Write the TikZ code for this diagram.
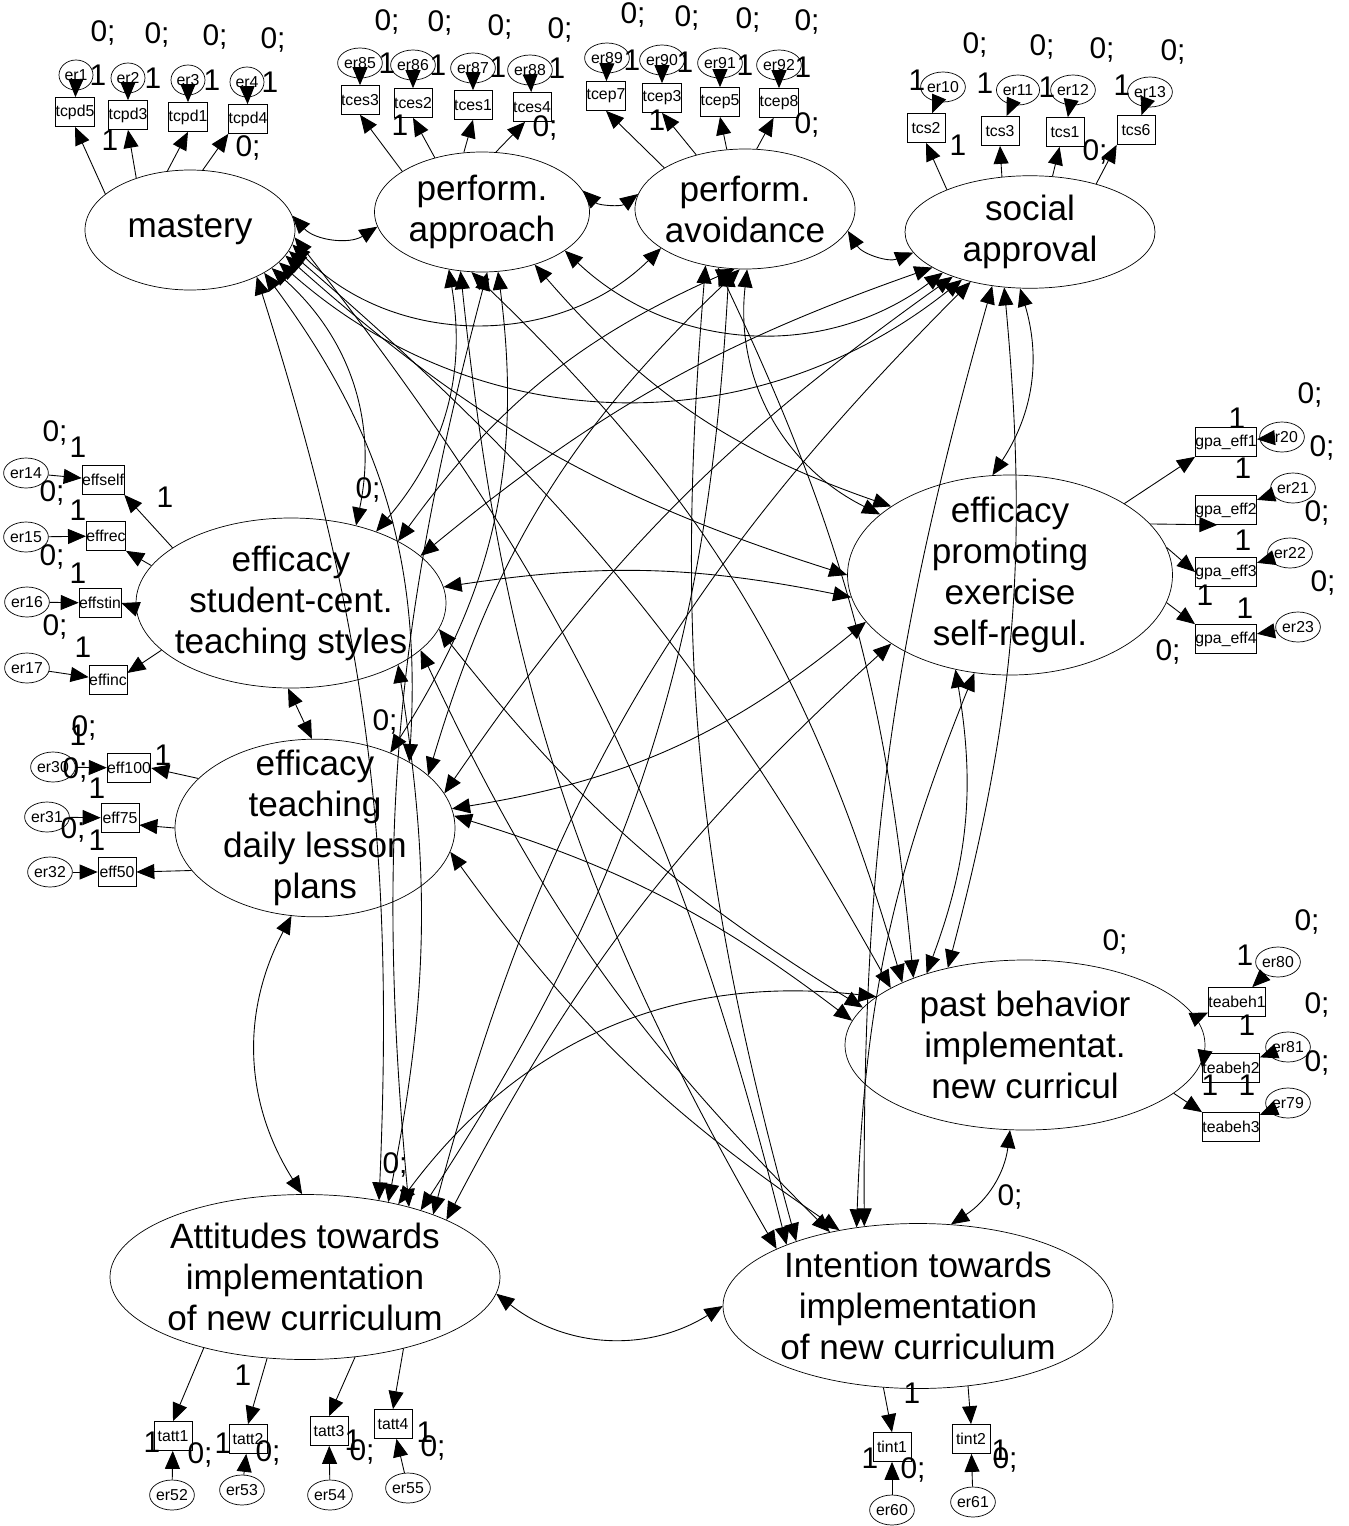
\documentclass[tikz,border=0pt]{standalone}
\usepackage{fontspec}
\setmainfont{Liberation Sans}
\usetikzlibrary{arrows.meta,shapes.geometric,positioning}
\tikzset{%
  >={Triangle[length=3.6mm,width=3mm]},
  % Specifications for style of nodes:
      latent/.style = {ellipse, draw=black, inner sep=-3mm, align=center,
                       font=\fontsize{20}{23.3}\selectfont},
         obs/.style = {rectangle, draw=black, minimum width=7.6mm, minimum height=5.8mm,
                       inner sep=0pt, font=\fontsize{9}{10}\selectfont},
         err/.style = {ellipse, draw=black, minimum width=6.8mm, minimum height=6mm,
                       inner sep=0pt, font=\fontsize{9}{10}\selectfont},
         lbl/.style = {inner sep=0pt, font=\fontsize{17}{17}\selectfont},
        load/.style = {->, line width=0.5pt},
         cov/.style = {<->, line width=0.5pt}
}

\begin{document}
\begin{tikzpicture}[x=0.2mm, y=0.2mm]
\useasboundingbox (0,0) rectangle (1348,-1526);

% latent variables
\node (mas) [latent, minimum width=42mm, minimum height=24mm] at (190,-230) {mastery};
\node (app) [latent, minimum width=43mm, minimum height=24mm] at (482,-212) {perform.\\approach};
\node (avo) [latent, minimum width=44mm, minimum height=24mm] at (745,-209) {perform.\\avoidance};
\node (soc) [latent, minimum width=50mm, minimum height=22.5mm] at (1030,-232) {social\\approval};
\node (stu) [latent, minimum width=62mm, minimum height=34mm] at (291,-603) {efficacy\\student-cent.\\teaching styles};
\node (pro) [latent, minimum width=65mm, minimum height=40mm] at (1010,-575) {efficacy\\promoting\\exercise\\self-regul.};
\node (les) [latent, minimum width=56mm, minimum height=35mm] at (315,-828) {efficacy\\teaching\\daily lesson\\plans};
\node (pst) [latent, minimum width=72mm, minimum height=34mm] at (1025,-1045) {past behavior\\implementat.\\new curricul};
\node (att) [latent, minimum width=78mm, minimum height=33mm] at (305,-1277) {Attitudes towards\\implementation\\of new curriculum};
\node (int) [latent, minimum width=78mm, minimum height=33mm] at (918,-1306) {Intention towards\\implementation\\of new curriculum};

% observed variables
\foreach \nm/\x/\y in {tcpd5/75/112, tcpd3/128/115, tcpd1/188/117, tcpd4/248/119,
    tces3/360/100, tces2/413/103, tces1/473/105, tces4/532/107,
    tcep7/606/96, tcep3/662/98, tcep5/720/102, tcep8/779/103,
    tcs2/926/128, tcs3/1000/131, tcs1/1065/132, tcs6/1136/130,
    effself/103/480, effrec/106/536, effstin/100/603, effinc/108/680,
    eff100/129/768, eff75/120/818, eff50/117/872,
    teabeh1/1237/1002, teabeh2/1231/1068, teabeh3/1231/1127,
    tatt1/173/1436, tatt2/248/1439, tatt3/329/1431, tatt4/393/1424,
    tint1/892/1447, tint2/971/1439}
  \node (\nm) [obs] at (\x,-\y) {\nm};
\foreach \i/\y in {1/442, 2/510, 3/572, 4/639}
  \node (gpa\i) [obs] at (1226,-\y) {gpa\_eff\i};

% error terms
\foreach \nm/\x/\y in {er1/76/75, er2/128/78, er3/188/80, er4/247/82,
    er85/360/63, er86/413/65, er87/473/68, er88/530/70,
    er89/607/58, er90/662/60, er91/720/63, er92/779/65,
    er10/943/87, er11/1018/90, er12/1073/90, er13/1150/92,
    er14/26/473, er15/26/537, er16/27/602, er17/27/668,
    er30/53/767, er31/47/817, er32/50/872,
    er20/1282/437, er21/1293/488, er22/1290/553, er23/1298/627,
    er80/1278/962, er81/1288/1047, er79/1288/1103,
    er52/172/1495, er53/242/1490, er54/330/1495, er55/408/1488,
    er60/892/1510, er61/973/1502}
  \node (\nm) [err] at (\x,-\y) {\nm};

\foreach \e/\o in {er1/tcpd5, er2/tcpd3, er3/tcpd1, er4/tcpd4,
    er85/tces3, er86/tces2, er87/tces1, er88/tces4,
    er89/tcep7, er90/tcep3, er91/tcep5, er92/tcep8,
    er10/tcs2, er11/tcs3, er12/tcs1, er13/tcs6,
    er14/effself, er15/effrec, er16/effstin, er17/effinc,
    er30/eff100, er31/eff75, er32/eff50,
    er20/gpa1, er21/gpa2, er22/gpa3, er23/gpa4,
    er80/teabeh1, er81/teabeh2, er79/teabeh3,
    er52/tatt1, er53/tatt2, er54/tatt3, er55/tatt4,
    er60/tint1, er61/tint2}
  \draw[load] (\e) -- (\o);

% loadings
\draw[load] (mas.157) -- (tcpd5.south);
\draw[load] (mas.136) -- (tcpd3.south);
\draw[load] (mas.111) -- (tcpd1.south);
\draw[load] (mas.78) -- (tcpd4.south west);
\draw[load] (app.153) -- (tces3.south);
\draw[load] (app.131) -- (tces2.south);
\draw[load] (app.107) -- (tces1.south);
\draw[load] (app.77) -- (tces4.-115);
\draw[load] (avo.153) -- (tcep7.south);
\draw[load] (avo.132) -- (tcep3.south);
\draw[load] (avo.107) -- (tcep5.south);
\draw[load] (avo.79) -- (tcep8.-110);
\draw[load] (soc.153) -- (tcs2.south);
\draw[load] (soc.117) -- (tcs3.south);
\draw[load] (soc.68) -- (tcs1.-110);
\draw[load] (soc.36) -- (tcs6.south west);
\draw[load] (stu.155) -- (effself.south east);
\draw[load] (stu.165) -- (effrec.south east);
\draw[load] (stu.182) -- (effstin.east);
\draw[load] (stu.200) -- (effinc.20);
\draw[load] (les.157) -- (eff100.east);
\draw[load] (les.180) -- (eff75.-20);
\draw[load] (les.199) -- (eff50.east);
\draw[load] (pro.32) -- (gpa1.south west);
\draw[load] (pro.20) -- (gpa2.-120);
\draw[load] (pro.10) -- (gpa3.west);
\draw[load] (pro.-10) -- (gpa4.north west);
\draw[load] (pst.9) -- (teabeh1.-160);
\draw[load] (pst.-2) -- (teabeh2.west);
\draw[load] (pst.-18) -- (teabeh3.north west);
\draw[load] (att.215) -- (tatt1.north);
\draw[load] (att.245) -- (tatt2.north);
\draw[load] (att.302) -- (tatt3.north);
\draw[load] (att.324) -- (tatt4.north);
\draw[load] (int.247) -- (tint1.north);
\draw[load] (int.302) -- (tint2.north);

% covariances
\draw[cov] (mas.8) to[bend right=40] (app.188);
\draw[cov] (app.12) to[bend right=40] (avo.172);
\draw[cov] (avo.-12) to[bend right=40] (soc.190);
\draw[cov] (mas.-8) to[bend right=45] (avo.205);
\draw[cov] (app.-25) to[bend right=40] (soc.205);
\draw[cov] (mas.-20) to[bend right=40] (soc.215);
\draw[cov] (soc.-100) to[bend left=25] (pro.100);
\draw[cov] (stu.-92) -- (les.92);
\draw[cov] (les.-105) to[bend right=30] (att.92);
\draw[cov] (pst.-100) to[bend left=25] (int.68);
\draw[cov] (att.-5) to[bend right=35] (int.180);
\draw[cov] (mas.-25) to[bend left=30] (stu.50);
\draw[cov] (mas.-15) to[bend right=12] (pro.180);
\draw[cov] (mas.-30) to[bend left=20] (les.35);
\draw[cov] (mas.-12) to[bend left=10] (pst.157);
\draw[cov] (mas.-35) to[bend left=10] (att.46);
\draw[cov] (mas.-4) to[bend left=12] (int.155);
\draw[cov] (app.-120) to[bend left=25] (stu.40);
\draw[cov] (app.-45) to[bend right=15] (pro.150);
\draw[cov] (app.-75) to[bend left=20] (les.45);
\draw[cov] (app.-100) to[bend left=15] (pst.153);
\draw[cov] (app.-85) to[bend right=10] (att.34);
\draw[cov] (app.-110) to[bend right=12] (int.158);
\draw[cov] (avo.-100) to[bend right=15] (stu.30);
\draw[cov] (avo.-88) to[bend right=35] (pro.155);
\draw[cov] (avo.-95) to[bend right=15] (les.25);
\draw[cov] (avo.-115) to[bend left=10] (pst.149);
\draw[cov] (avo.-105) to[bend left=15] (att.30);
\draw[cov] (avo.-125) to[bend right=10] (int.152);
\draw[cov] (soc.200) to[bend right=10] (stu.20);
\draw[cov] (soc.210) to[bend right=10] (les.15);
\draw[cov] (soc.-115) to[bend left=10] (pst.135);
\draw[cov] (soc.220) to[bend right=15] (att.26);
\draw[cov] (soc.-125) to[bend right=8] (int.124);
\draw[cov] (stu.6) to[bend left=10] (pro.188);
\draw[cov] (stu.-10) to[bend right=10] (pst.167);
\draw[cov] (stu.-30) to[bend left=10] (att.42);
\draw[cov] (stu.-20) to[bend right=10] (int.140);
\draw[cov] (pro.198) to[bend left=15] (les.8);
\draw[cov] (pro.-120) to[bend left=15] (pst.144);
\draw[cov] (pro.210) to[bend right=10] (att.22);
\draw[cov] (pro.-110) to[bend right=10] (int.128);
\draw[cov] (les.5) to[bend left=10] (pst.172);
\draw[cov] (les.-10) to[bend right=10] (int.136);
\draw[cov] (pst.162) to[bend right=30] (att.38);

% parameter labels
\foreach \x/\y [count=\i] in {103/33, 157/35, 215/37, 273/40, 387/22, 440/23, 500/27, 560/30,
    633/15, 687/18, 748/20, 807/22, 975/45, 1042/47, 1102/50, 1173/52,
    248/148, 545/128, 807/125, 1095/152,
    55/433, 52/493, 52/557, 55/627, 368/490,
    84/728, 75/770, 73/830, 385/722,
    1310/395, 1322/448, 1317/513, 1323/583, 1168/652,
    1115/942, 1307/922, 1317/1005, 1317/1063,
    200/1455, 268/1453, 362/1452, 433/1448, 395/1165,
    913/1470, 1005/1460, 1010/1197}
  \node (z\i) [lbl] at (\x,-\y) {0;};
\foreach \x/\y [count=\i] in {98/75, 153/78, 212/80, 270/82, 387/63, 438/65, 498/67, 557/68,
    632/60, 685/62, 745/65, 803/67, 917/80, 985/83, 1047/87, 1122/85,
    110/140, 400/125, 657/120, 958/145,
    78/447, 78/510, 78/573, 83/647, 165/497,
    78/735, 163/755, 97/788, 97/840,
    1237/418, 1243/468, 1243/540, 1205/595, 1245/608,
    1245/955, 1247/1025, 1210/1085, 1247/1085,
    152/1442, 223/1443, 353/1440, 425/1432, 243/1375,
    912/1393, 870/1458, 1000/1450}
  \node (o\i) [lbl] at (\x,-\y) {1};

\end{tikzpicture}
\end{document}
